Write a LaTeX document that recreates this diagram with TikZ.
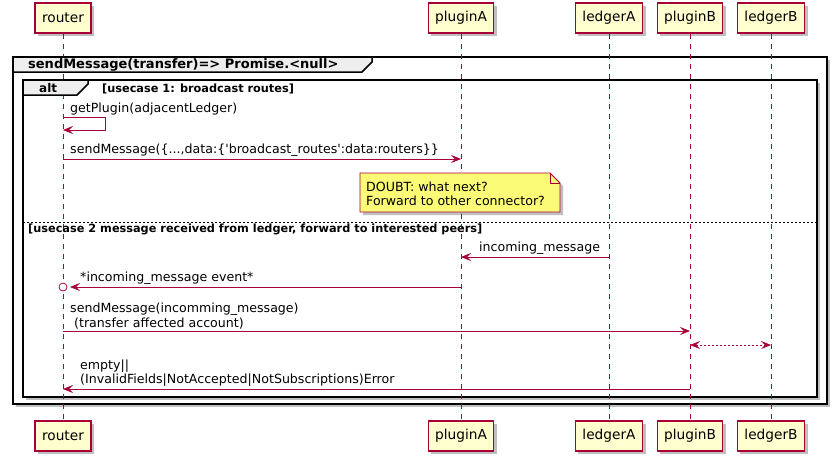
\documentclass[tikz,border=0pt]{standalone}
\usepackage{fontspec}
\newfontfamily\umlfont{DejaVu Sans}
\usetikzlibrary{arrows.meta, shadows, positioning}

\definecolor{umlred}{HTML}{A80036}
\definecolor{umlbox}{HTML}{FEFECE}
\definecolor{umlnote}{HTML}{FBFB77}
\definecolor{umltab}{HTML}{EEEEEE}

\tikzset{
  umltip/.tip={Stealth[length=10pt,width=8pt,inset=4pt]},
  umlshadow/.style={drop shadow={shadow xshift=3pt,shadow yshift=-3pt,fill=black,opacity=0.25}},
  actor/.style={draw=umlred, line width=1.2pt, fill=umlbox, umlshadow,
    minimum height=30pt, inner xsep=7pt, font=\umlfont\fontsize{13.7}{16}\selectfont},
  lifeline/.style={umlred, line width=0.8pt, dash pattern=on 5pt off 5pt},
  msg/.style={umlred, line width=0.8pt, -umltip},
  syncmsg/.style={umlred, line width=0.8pt, umltip-umltip, dash pattern=on 2pt off 2pt},
  msglabel/.style={anchor=south west, inner xsep=0pt, inner ysep=1pt, align=left,
    font=\umlfont\fontsize{12.6}{14.5}\selectfont},
  frame/.style={draw=black, line width=1.5pt, fill=white, umlshadow},
  tab/.style={draw=black, line width=1.5pt, fill=umltab},
  framelabel/.style={anchor=base west, inner sep=0pt, font=\umlfont\bfseries\fontsize{13}{15}\selectfont},
  guard/.style={anchor=base west, inner sep=0pt, font=\umlfont\bfseries\fontsize{11.3}{13}\selectfont},
  note/.style={draw=umlred, line width=0.8pt, fill=umlnote, umlshadow},
}

\begin{document}
\begin{tikzpicture}[x=1pt,y=-1pt]
  \useasboundingbox (0,0) rectangle (838,461);

  % frames (drawn first so the lifelines run over them)
  \draw[frame] (13,57) rectangle (827,404);
  \draw[frame] (23,80) rectangle (817,397);

  % participants, top and bottom
  \node[actor] (router) at (63,18) {router};
  \node[actor] (pluginA) at (461,18) {pluginA};
  \node[actor] (ledgerA) at (609,18) {ledgerA};
  \node[actor] (pluginB) at (690,18) {pluginB};
  \node[actor] (ledgerB) at (771,18) {ledgerB};
  \node[actor] (routerFoot) at (63,436) {router};
  \node[actor] (pluginAFoot) at (461,436) {pluginA};
  \node[actor] (ledgerAFoot) at (609,436) {ledgerA};
  \node[actor] (pluginBFoot) at (690,436) {pluginB};
  \node[actor] (ledgerBFoot) at (771,436) {ledgerB};

  % lifelines
  \draw[lifeline] (router) -- (routerFoot);
  \draw[lifeline] (pluginA) -- (pluginAFoot);
  \draw[lifeline] (ledgerA) -- (ledgerAFoot);
  \draw[lifeline] (pluginB) -- (pluginBFoot);
  \draw[lifeline] (ledgerB) -- (ledgerBFoot);

  % frame tabs and guards
  \draw[tab] (13,57) -- (372,57) -- (372,62) -- (362,72) -- (13,72) -- cycle;
  \node[framelabel] (mainLbl) at (28,68) {sendMessage(transfer)=> Promise.<null>};
  \draw[tab] (23,80) -- (88,80) -- (88,84) -- (77,95) -- (23,95) -- cycle;
  \node[framelabel, font=\umlfont\bfseries\fontsize{12}{14}\selectfont] (altLbl) at (39,92) {alt};
  \node[guard] (guardOne) at (102,92) {[usecase 1: broadcast routes]};
  \draw[black, line width=0.8pt, dash pattern=on 2pt off 2pt] (23,222) -- (817,222);
  \node[guard] (guardTwo) at (28,232) {[usecase 2 message received from ledger, forward to interested peers]};

  % message rows
  \coordinate (rowSelf) at (0,117);
  \coordinate (rowSelfBack) at (0,130);
  \coordinate (rowBroadcast) at (0,159);
  \coordinate (rowIncoming) at (0,257);
  \coordinate (rowEvent) at (0,287);
  \coordinate (rowForward) at (0,331);
  \coordinate (rowSync) at (0,345);
  \coordinate (rowReply) at (0,389);

  % usecase 1
  \draw[msg] (router |- rowSelf) -- ++(42,0) -- ++(0,13) -- (router |- rowSelfBack);
  \node[msglabel] (selfLbl) at (70,116) {getPlugin(adjacentLedger)};
  \draw[msg] (router |- rowBroadcast) -- (pluginA |- rowBroadcast);
  \node[msglabel] (broadcastLbl) at (70,158) {sendMessage(\{...,data:\{'broadcast\_routes':data:routers\}\}};

  % note
  \draw[note] (360,173) -- (550,173) -- (560,183) -- (560,212) -- (360,212) -- cycle;
  \draw[umlred, line width=0.8pt] (550,173) -- (550,183) -- (560,183);
  \node[msglabel, anchor=north west] (doubt) at (366,180.5) {DOUBT: what next?\\Forward to other connector?};

  % usecase 2
  \draw[msg] (ledgerA |- rowIncoming) -- (pluginA |- rowIncoming);
  \node[msglabel] (incomingLbl) at (479,256) {incoming\_message};
  \draw[msg, shorten >=7pt] (pluginA |- rowEvent) -- (router |- rowEvent);
  \draw[umlred, line width=0.8pt, fill=white] (router |- rowEvent) circle (4);
  \node[msglabel] (eventLbl) at (80,286) {*incoming\_message event*};
  \draw[msg] (router |- rowForward) -- (pluginB |- rowForward);
  \node[msglabel] (forwardLbl) at (70,330) {sendMessage(incomming\_message)\\\hspace*{4pt}(transfer affected account)};
  \draw[syncmsg] (pluginB |- rowSync) -- (ledgerB |- rowSync);
  \draw[msg] (pluginB |- rowReply) -- (router |- rowReply);
  \node[msglabel] (replyLbl) at (80,388) {empty||\\(InvalidFields|NotAccepted|NotSubscriptions)Error};
\end{tikzpicture}
\end{document}
